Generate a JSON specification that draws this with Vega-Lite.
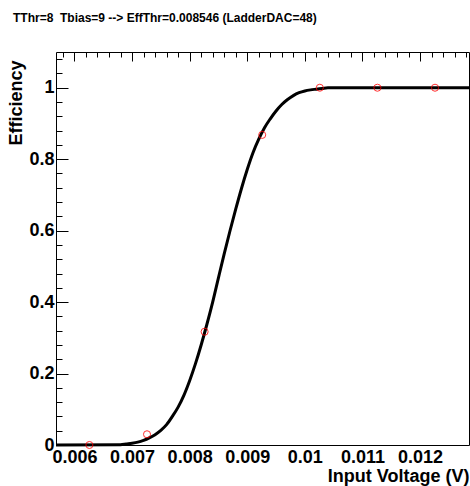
{
  "$schema": "https://vega.github.io/schema/vega-lite/v6.json",
  "autosize": "none",
  "width": 413,
  "height": 393,
  "padding": {"left": 56, "top": 52, "right": 1, "bottom": 41},
  "background": "white",
  "config": {
    "view": {"stroke": "#000", "strokeWidth": 1, "fill": "transparent"},
    "font": "Liberation Sans"
  },
  "title": {
    "text": "TThr=8\u00a0\u00a0Tbias=9 --> EffThr=0.008546 (LadderDAC=48)",
    "anchor": "start",
    "frame": "group",
    "dx": -43,
    "offset": 18,
    "baseline": "alphabetic",
    "font": "Liberation Sans",
    "fontWeight": "bold",
    "fontSize": 12,
    "color": "#000"
  },
  "datasets": {
    "fit": [
      {"v": 0.00568, "eff": 0.0},
      {"v": 0.0068, "eff": 0.001},
      {"v": 0.0069, "eff": 0.003},
      {"v": 0.0070, "eff": 0.005},
      {"v": 0.0071, "eff": 0.008},
      {"v": 0.0072, "eff": 0.013},
      {"v": 0.0073, "eff": 0.020},
      {"v": 0.0074, "eff": 0.029},
      {"v": 0.0075, "eff": 0.041},
      {"v": 0.0076, "eff": 0.057},
      {"v": 0.0077, "eff": 0.080},
      {"v": 0.0078, "eff": 0.106},
      {"v": 0.0079, "eff": 0.139},
      {"v": 0.0080, "eff": 0.180},
      {"v": 0.0081, "eff": 0.227},
      {"v": 0.0082, "eff": 0.280},
      {"v": 0.0083, "eff": 0.338},
      {"v": 0.0084, "eff": 0.400},
      {"v": 0.0085, "eff": 0.468},
      {"v": 0.0086, "eff": 0.535},
      {"v": 0.0087, "eff": 0.599},
      {"v": 0.0088, "eff": 0.660},
      {"v": 0.0089, "eff": 0.718},
      {"v": 0.0090, "eff": 0.771},
      {"v": 0.0091, "eff": 0.818},
      {"v": 0.0092, "eff": 0.856},
      {"v": 0.0093, "eff": 0.888},
      {"v": 0.0094, "eff": 0.913},
      {"v": 0.0095, "eff": 0.935},
      {"v": 0.0096, "eff": 0.953},
      {"v": 0.0097, "eff": 0.967},
      {"v": 0.0098, "eff": 0.978},
      {"v": 0.0099, "eff": 0.986},
      {"v": 0.0100, "eff": 0.991},
      {"v": 0.0101, "eff": 0.994},
      {"v": 0.0102, "eff": 0.996},
      {"v": 0.0103, "eff": 0.998},
      {"v": 0.0104, "eff": 1.0},
      {"v": 0.01285, "eff": 1.0}
    ],
    "points": [
      {"v": 0.00626, "eff": 0.0},
      {"v": 0.00726, "eff": 0.03},
      {"v": 0.00826, "eff": 0.317},
      {"v": 0.00926, "eff": 0.868},
      {"v": 0.01026, "eff": 1.0},
      {"v": 0.01126, "eff": 1.0},
      {"v": 0.01226, "eff": 1.0}
    ]
  },
  "resolve": {"axis": {"x": "independent", "y": "independent"}},
  "layer": [
    {
      "data": {"name": "fit"},
      "mark": {"type": "line", "color": "#000", "strokeWidth": 3, "interpolate": "monotone"},
      "encoding": {
        "x": {
          "field": "v",
          "type": "quantitative",
          "scale": {"domain": [0.00568, 0.01285], "nice": false, "zero": false},
          "axis": {
            "orient": "bottom",
            "title": "Input Voltage (V)",
            "titleAnchor": "end",
            "titleAlign": "right",
            "titleFont": "Liberation Sans",
            "titleFontWeight": "bold",
            "titleFontSize": 18,
            "titleColor": "#000",
            "titlePadding": 1,
            "domain": false,
            "ticks": false,
            "grid": true,
            "gridColor": "#000",
            "gridOpacity": 1,
            "gridWidth": 1,
            "gridDash": [9, 2000],
            "values": [0.006, 0.007, 0.008, 0.009, 0.01, 0.011, 0.012],
            "format": ".3~f",
            "labelFont": "Liberation Sans",
            "labelFontWeight": "bold",
            "labelFontSize": 18,
            "labelColor": "#000",
            "labelPadding": 3,
            "labelFlush": false,
            "labelOverlap": false
          }
        },
        "y": {
          "field": "eff",
          "type": "quantitative",
          "scale": {"domain": [0, 1.1], "nice": false},
          "axis": {
            "orient": "left",
            "title": "Efficiency",
            "titleAnchor": "end",
            "titleAlign": "right",
            "titleY": 8,
            "titleFont": "Liberation Sans",
            "titleFontWeight": "bold",
            "titleFontSize": 18,
            "titleColor": "#000",
            "titlePadding": 3,
            "domain": false,
            "ticks": false,
            "grid": true,
            "gridColor": "#000",
            "gridOpacity": 1,
            "gridWidth": 1,
            "gridDash": [12, 2000],
            "values": [0, 0.2, 0.4, 0.6, 0.8, 1.0],
            "format": ".1~f",
            "labelFont": "Liberation Sans",
            "labelFontWeight": "bold",
            "labelFontSize": 18,
            "labelColor": "#000",
            "labelPadding": 2,
            "labelOverlap": false
          }
        }
      }
    },
    {
      "data": {"name": "points"},
      "mark": {"type": "point", "shape": "circle", "filled": false, "color": "#ff0000", "strokeWidth": 1, "size": 50, "opacity": 0.8},
      "encoding": {
        "x": {
          "field": "v",
          "type": "quantitative",
          "axis": {
            "orient": "bottom",
            "title": null,
            "domain": false,
            "ticks": false,
            "labels": false,
            "grid": true,
            "gridColor": "#000",
            "gridOpacity": 1,
            "gridWidth": 1,
            "gridDash": [5, 2000],
            "values": [0.0058, 0.0062, 0.0064, 0.0066, 0.0068, 0.0072, 0.0074, 0.0076, 0.0078, 0.0082, 0.0084, 0.0086, 0.0088, 0.0092, 0.0094, 0.0096, 0.0098, 0.0102, 0.0104, 0.0106, 0.0108, 0.0112, 0.0114, 0.0116, 0.0118, 0.0122, 0.0124, 0.0126, 0.0128]
          }
        },
        "y": {
          "field": "eff",
          "type": "quantitative",
          "axis": {
            "orient": "left",
            "title": null,
            "domain": false,
            "ticks": false,
            "labels": false,
            "grid": true,
            "gridColor": "#000",
            "gridOpacity": 1,
            "gridWidth": 1,
            "gridDash": [6, 2000],
            "values": [0.04, 0.08, 0.12, 0.16, 0.24, 0.28, 0.32, 0.36, 0.44, 0.48, 0.52, 0.56, 0.64, 0.68, 0.72, 0.76, 0.84, 0.88, 0.92, 0.96, 1.04, 1.08]
          }
        }
      }
    }
  ]
}
